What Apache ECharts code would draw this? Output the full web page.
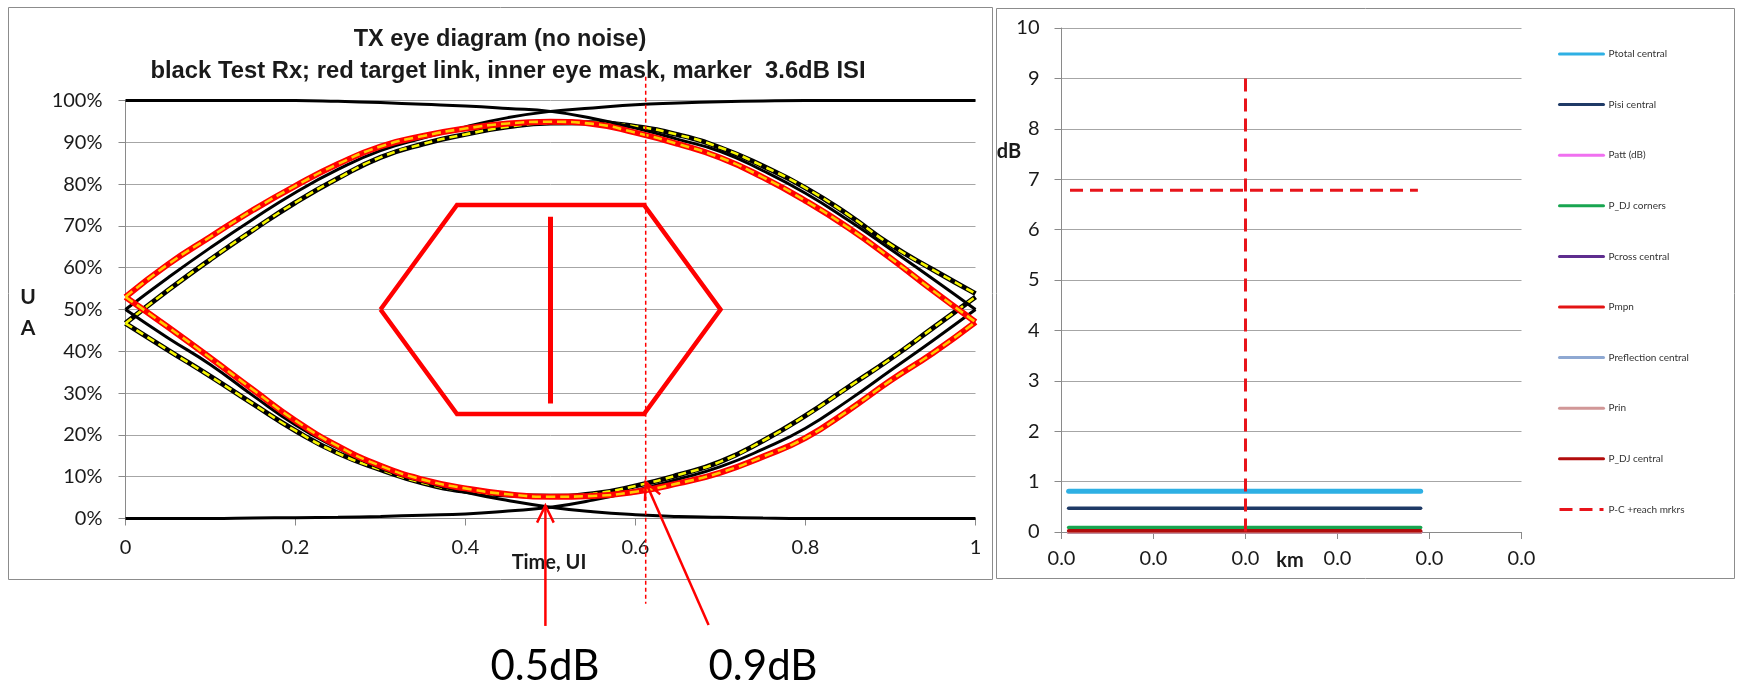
<!DOCTYPE html>
<html>
<head>
<meta charset="utf-8">
<script src="https://cdn.jsdelivr.net/npm/echarts@6/dist/echarts.min.js"></script>
<style>html,body{margin:0;padding:0;background:#fff}#c{width:1738px;height:685px}</style>
</head>
<body>
<div id="c"></div>
<script>
// ---------------- data: eye diagram (percent of amplitude vs time in UI) ----------------
const timeUI = [0,0.05,0.1,0.15,0.2,0.25,0.3,0.35,0.4,0.45,0.5,0.55,0.6,0.65,0.7,0.75,0.8,0.85,0.9,0.95,1];
// Test Rx (black) transitions
const rxRiseToOne  = [50.0,57.6,64.8,71.6,78.0,83.5,88.0,91.0,93.7,95.9,97.4,98.2,99.0,99.4,99.7,99.9,100,100,100,100,100];
const rxOneToFall  = [100,100,100,100,100,99.8,99.5,99.1,98.7,98.1,97.4,95.7,93.4,90.7,87.8,83.2,77.8,71.4,64.4,57.3,50.0];
const rxFallToZero = [50.0,43.2,36.8,29.4,22.4,16.8,12.0,8.8,6.3,4.3,2.7,1.6,0.9,0.5,0.3,0.1,0,0,0,0,0];
const rxZeroToRise = [0,0,0,0.1,0.2,0.3,0.5,0.8,1.1,1.8,2.7,4.4,6.7,9.4,12.4,16.6,21.6,28.2,35.4,42.6,50.0];
// black/yellow dashed
const byUpper = [46.7,54.6,62.0,69.0,75.6,81.4,86.4,89.6,91.9,93.7,94.6,94.7,93.8,91.8,88.7,84.3,79.1,72.7,65.5,59.5,53.8];
const byLower = [46.7,40.3,34.0,27.4,21.0,15.6,11.7,8.5,6.5,5.6,5.3,5.9,7.8,10.4,13.6,18.6,24.6,31.4,38.2,45.6,53.0];
// red target link
const redUpper = [53.0,60.8,67.4,73.8,79.6,84.8,89.0,91.5,93.3,94.5,94.9,94.4,92.3,89.6,86.3,81.6,76.0,69.6,62.3,54.5,47.0];
const redLower = [53.0,45.8,38.4,30.8,23.4,17.3,12.6,9.3,7.2,5.8,5.2,5.4,6.4,8.4,11.0,14.8,19.3,25.8,33.0,39.6,47.0];
// inner eye mask
const maskT = [0.3,0.39,0.61,0.7,0.61,0.39,0.3];
const maskV = [50,75,75,50,25,25,50];
const barT = [0.5,0.5];
const barV = [72.2,27.5];
// marker
const markerT = [0.612,0.612];
const markerV = [105.7,-20.4];
// annotations
const arrowLabels = ['0.5dB','0.9dB'];
const arrowTip  = [[0.494,3.1],[0.612,8.7]];
const arrowTail = [[0.494,-25.7],[0.686,-25.5]];
const labelAt   = [[0.4935,-35.5],[0.750,-35.5]];
const eyeYTicks = [0,10,20,30,40,50,60,70,80,90,100];

// ---------------- data: right chart (dB vs km) ----------------
const levelNames = ['Ptotal central','Pisi central','Patt (dB)','P_DJ corners','Pcross central','Pmpn','Preflection central','Prin','P_DJ central'];
const levelDb = [0.81,0.47,0,0.09,0,0,0,0,0.025];
const reachKm = [0.00062,0.03123];
const markerName = 'P-C +reach mrkrs';
const markerKmSpan = [0.00074,0.03099];
const markerDb = 6.78;
const markerKm = 0.016;
const markerDbSpan = [9,0];
const kmAxis = {min:0, max:0.04, step:0.008};

const titleLines = ['TX eye diagram (no noise)','black Test Rx; red target link, inner eye mask, marker  3.6dB ISI'];

// ---------------- styles ----------------
const FONT = 'Lato, "Liberation Sans", sans-serif';
const TFONT = '"Liberation Sans", Arial, sans-serif';
const levelColors = ['#2EB0E4','#1F3A66','#F070F0','#18A550','#5E2D8E','#E31414','#8EA8D2','#D19797','#B20C0C'];
const levelWidths = [5,3.5,3.5,3.5,3.5,3.5,3.5,3.5,3.5];
const GRID = '#a6a6a6', AXIS = '#8a8a8a', TXT = '#1a1a1a';

const zip = (xs, ys) => xs.map((x,i)=>[x, ys[i]]);
function eyeLine(ys, color, width, type, z) {
  return {type:'line', xAxisIndex:0, yAxisIndex:0, data: zip(timeUI, ys), smooth:0.5,
    symbol:'none', silent:true, z: z, lineStyle:{color:color, width:width, type:type||'solid', cap:'butt'}};
}

const series = [];
// black/yellow
[byUpper, byLower].forEach(a=>{ series.push(eyeLine(a,'#000',5,'solid',3)); series.push(eyeLine(a,'#F5F500',2.6,[8,5],4)); });
// black test rx
[rxRiseToOne, rxOneToFall, rxFallToZero, rxZeroToRise].forEach(a=>series.push(eyeLine(a,'#000',3,'solid',5)));
// red target link
[redUpper, redLower].forEach(a=>{ series.push(eyeLine(a,'#FF0000',6,'solid',6)); series.push(eyeLine(a,'#FFC800',2.6,[9,5],7)); });
// mask
series.push({type:'line', xAxisIndex:0, yAxisIndex:0, data: zip(maskT, maskV), symbol:'none', silent:true, z:8, clip:false,
  lineStyle:{color:'#FF0000', width:4.5, join:'miter'}});
series.push({type:'line', xAxisIndex:0, yAxisIndex:0, data: zip(barT, barV), symbol:'none', silent:true, z:8,
  lineStyle:{color:'#FF0000', width:5, cap:'butt'}});
// marker
series.push({type:'line', xAxisIndex:0, yAxisIndex:0, data: zip(markerT, markerV), symbol:'none', silent:true, z:9, clip:false,
  lineStyle:{color:'#FF0000', width:1.5, type:[4,3]}});
// arrows + labels
series.push({type:'custom', xAxisIndex:0, yAxisIndex:0, clip:false, silent:true, z:10,
  data: arrowTip.map((t,i)=>[t[0],t[1],arrowTail[i][0],arrowTail[i][1],labelAt[i][0],labelAt[i][1]]),
  renderItem: function(params, api){
    const i = params.dataIndex;
    const p = api.coord([api.value(0), api.value(1)]);
    const q = api.coord([api.value(2), api.value(3)]);
    const l = api.coord([api.value(4), api.value(5)]);
    const dx=q[0]-p[0], dy=q[1]-p[1], len=Math.hypot(dx,dy), ux=dx/len, uy=dy/len;
    const L=19, a=26*Math.PI/180;
    const rot = ang => [p[0]+L*(ux*Math.cos(ang)-uy*Math.sin(ang)), p[1]+L*(ux*Math.sin(ang)+uy*Math.cos(ang))];
    return {type:'group', children:[
      {type:'line', shape:{x1:p[0],y1:p[1],x2:q[0],y2:q[1]}, style:{stroke:'#FF0000', lineWidth:2.5}},
      {type:'polyline', shape:{points:[rot(a), p, rot(-a)]}, style:{stroke:'#FF0000', lineWidth:2.5, fill:null}},
      {type:'text', x:l[0], y:l[1], style:{text:arrowLabels[i], fontSize:42, fontFamily:FONT, fill:'#000', align:'center', verticalAlign:'middle'}}
    ]};
  }
});

// right chart series
levelNames.forEach((n,i)=>{
  series.push({type:'line', name:n, xAxisIndex:1, yAxisIndex:1, data:[[reachKm[0], levelDb[i]],[reachKm[1], levelDb[i]]],
    symbol:'none', silent:true, z:3+i*0.01, lineStyle:{color:levelColors[i], width:levelWidths[i], cap:'round'}, itemStyle:{color:levelColors[i]}});
});
series.push({type:'line', name:markerName, xAxisIndex:1, yAxisIndex:1, data:[[markerKmSpan[0],markerDb],[markerKmSpan[1],markerDb]],
  symbol:'none', silent:true, z:4, lineStyle:{color:'#E8141B', width:3, type:[13,7]}, itemStyle:{color:'#E8141B'}});
series.push({type:'line', name:markerName, xAxisIndex:1, yAxisIndex:1, data:[[markerKm,markerDbSpan[0]],[markerKm,markerDbSpan[1]]],
  symbol:'none', silent:true, z:4, lineStyle:{color:'#E8141B', width:3, type:[13,7]}, itemStyle:{color:'#E8141B'}});

const axisCommon = {
  axisLine:{show:true, lineStyle:{color:AXIS, width:1}},
  axisTick:{show:true, inside:false, length:7, lineStyle:{color:AXIS}},
  splitLine:{show:false},
  axisLabel:{color:TXT, fontSize:20, fontFamily:FONT}
};

const option = {
  animation:false,
  backgroundColor:'#fff',
  textStyle:{fontFamily:FONT},
  grid:[
    {left:125.5, top:100.5, width:850, height:418, outerBoundsMode:'none'},
    {left:1061.5, top:28, width:460, height:504, outerBoundsMode:'none'}
  ],
  xAxis:[
    Object.assign({}, axisCommon, {type:'value', gridIndex:0, min:0, max:1, interval:0.2,
      axisLabel:Object.assign({}, axisCommon.axisLabel, {margin:19})}),
    Object.assign({}, axisCommon, {type:'value', gridIndex:1, min:kmAxis.min, max:kmAxis.max, interval:kmAxis.step,
      axisLabel:Object.assign({}, axisCommon.axisLabel, {margin:17, formatter:v=>v.toFixed(1)})})
  ],
  yAxis:[
    Object.assign({}, axisCommon, {type:'value', gridIndex:0, min:eyeYTicks[0], max:eyeYTicks[eyeYTicks.length-1], interval:10,
      splitLine:{show:true, lineStyle:{color:GRID, width:1}},
      axisLabel:Object.assign({}, axisCommon.axisLabel, {margin:23, formatter:'{value}%'})}),
    Object.assign({}, axisCommon, {type:'value', gridIndex:1, min:0, max:10, interval:1,
      splitLine:{show:true, lineStyle:{color:GRID, width:1}},
      axisLabel:Object.assign({}, axisCommon.axisLabel, {margin:22})})
  ],
  legend:{
    data: levelNames.concat([markerName]),
    orient:'vertical', left:1558, top:49, padding:0,
    itemWidth:44, itemHeight:10, itemGap:40.6, selectedMode:false,
    lineStyle:{width:3},
    itemStyle:{opacity:0},
    textStyle:{fontSize:10, fontFamily:FONT, color:'#333'}
  },
  graphic:[
    {type:'rect', silent:true, z:-10, shape:{x:8.5,y:7.5,width:984,height:572}, style:{fill:null, stroke:'#8c8c8c', lineWidth:1}},
    {type:'rect', silent:true, z:-10, shape:{x:996.5,y:8.5,width:738,height:570}, style:{fill:null, stroke:'#8c8c8c', lineWidth:1}},
    {type:'text', silent:true, x:500, y:40, style:{text:titleLines[0], fontSize:23.5, fontWeight:'bold', fontFamily:TFONT, fill:TXT, align:'center', verticalAlign:'middle'}},
    {type:'text', silent:true, x:508, y:71, style:{text:titleLines[1], fontSize:23.8, fontWeight:'bold', fontFamily:TFONT, fill:TXT, align:'center', verticalAlign:'middle'}},
    {type:'text', silent:true, x:28, y:297, style:{text:'U', fontSize:21, fontWeight:'bold', fontFamily:FONT, fill:TXT, align:'center', verticalAlign:'middle'}},
    {type:'text', silent:true, x:28, y:328, style:{text:'A', fontSize:21, fontWeight:'bold', fontFamily:FONT, fill:TXT, align:'center', verticalAlign:'middle'}},
    {type:'text', silent:true, x:549, y:563, style:{text:'Time, UI', fontSize:20, fontWeight:'bold', fontFamily:FONT, fill:TXT, align:'center', verticalAlign:'middle'}},
    {type:'text', silent:true, x:1009, y:152, style:{text:'dB', fontSize:20, fontWeight:'bold', fontFamily:FONT, fill:TXT, align:'center', verticalAlign:'middle'}},
    {type:'text', silent:true, x:1290, y:561, style:{text:'km', fontSize:20, fontWeight:'bold', fontFamily:FONT, fill:TXT, align:'center', verticalAlign:'middle'}}
  ],
  series: series
};

const chart = echarts.init(document.getElementById('c'), null, {renderer:'canvas'});
chart.setOption(option);
</script>
</body>
</html>
